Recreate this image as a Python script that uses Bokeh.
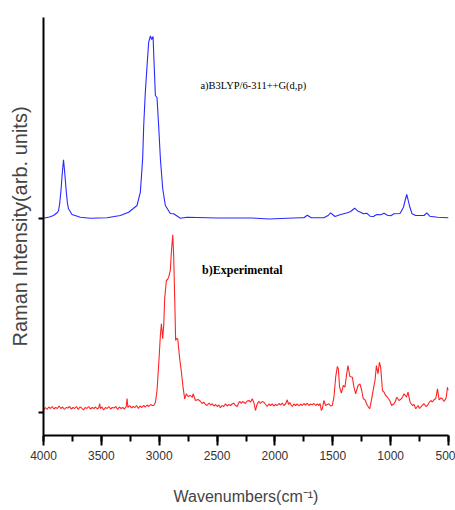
from bokeh.plotting import figure
from bokeh.models import Range1d, SingleIntervalTicker, FixedTicker
from bokeh.core.properties import value
from bokeh.embed import file_html
from bokeh.resources import INLINE

# ---- (a) calculated spectrum B3LYP/6-311++G(d,p), offset baseline ~217 ----
calc_wn = [4000, 3950, 3913, 3880, 3870, 3860, 3849, 3838, 3827, 3816, 3804, 3794, 3784, 3754,
           3682, 3596, 3451, 3336, 3264, 3224, 3192, 3163, 3143, 3134, 3120, 3105, 3091, 3076,
           3065, 3053, 3047, 3033, 3019, 3005, 2990, 2970, 2947, 2904, 2875, 2817, 2759, 2500,
           2200, 2050, 1950, 1780, 1750, 1720, 1686, 1577, 1540, 1519, 1481, 1438, 1374, 1346,
           1311, 1282, 1259, 1236, 1207, 1178, 1149, 1120, 1086, 1057, 1028, 999, 971, 919,
           889, 875, 861, 850, 838, 815, 783, 711, 688, 662, 595, 500]
calc_int = [217.3, 218.5, 220, 223, 225, 232, 245, 262, 275.7, 262, 245, 233, 226.7, 221,
            218.3, 217.3, 217.7, 220, 223.3, 227, 230, 243.3, 277, 310, 343.3, 370, 393.3, 399.5,
            396, 399, 380, 340, 338, 310, 277, 247, 230, 222, 221.7, 217.3, 218.3, 217.5,
            217.5, 216.5, 217, 217.7, 217.7, 220.3, 217.7, 217.7, 220, 222.7, 219, 220.7, 222.7, 224,
            227.3, 224.3, 223.3, 221.7, 222.3, 219.3, 219, 221, 220.7, 222.3, 220.3, 219.7, 221.7, 222,
            228.3, 235, 241, 236, 230, 221.7, 220, 220, 222.7, 219.3, 218.3, 217.7]

# ---- (b) experimental spectrum ----
exp_wn = [4000, 3985, 3970, 3955, 3940, 3925, 3910, 3895, 3880, 3865, 3850, 3835, 3820, 3805,
          3790, 3775, 3760, 3745, 3730, 3715, 3700, 3685, 3670, 3655, 3640, 3625, 3610, 3595,
          3580, 3565, 3550, 3535, 3522, 3515, 3508, 3495, 3480, 3465, 3450, 3435, 3420, 3405,
          3390, 3375, 3360, 3345, 3330, 3315, 3300, 3285, 3278, 3270, 3255, 3240, 3225, 3210,
          3195, 3180, 3165, 3150, 3135, 3120, 3105, 3090, 3075, 3060,
          3048, 3033, 3019, 3005, 2990, 2981, 2975, 2970, 2961, 2953, 2938, 2928, 2918, 2910,
          2903, 2895, 2883, 2875, 2866, 2858, 2850, 2840, 2823, 2808, 2794, 2780, 2765, 2750,
          2730, 2715, 2707, 2687, 2665,
          2644, 2630, 2615, 2600, 2586, 2570, 2556, 2542, 2528, 2513, 2499, 2485, 2471, 2457,
          2442, 2427, 2413, 2398, 2384, 2370, 2356, 2341, 2326, 2315, 2304, 2290, 2280, 2269,
          2255, 2240, 2226, 2210, 2196, 2182, 2168, 2155, 2139, 2125, 2110, 2096, 2081, 2067,
          2052, 2038, 2023, 2009, 1995, 1980, 1966, 1951, 1937, 1922, 1908, 1893, 1882, 1871,
          1860, 1850, 1836, 1821, 1807, 1793, 1778, 1764, 1750, 1735, 1720, 1706, 1691, 1677,
          1663, 1648, 1634, 1620, 1610, 1599, 1590, 1577, 1562, 1548, 1533, 1518, 1504,
          1490, 1475, 1461, 1452, 1441, 1426, 1409, 1395, 1380, 1369, 1352, 1331, 1317, 1302,
          1282, 1265, 1250, 1236, 1222, 1201, 1181, 1164, 1149, 1135, 1123, 1109, 1097, 1086,
          1071, 1057, 1043, 1028, 1008, 991, 971, 960, 947, 928, 907, 895, 884, 863, 850,
          832, 812, 798, 783, 763, 750, 740, 725, 711, 695, 682, 668, 653, 640, 625, 610,
          595, 581, 566, 552, 540, 532, 520, 509, 500]
exp_int = [25.5, 28, 26, 28.5, 27, 29, 26.5, 28, 27, 29.5, 27, 28.5, 26, 28,
           27.5, 29, 26.5, 28, 27, 29, 26, 28.5, 27.5, 25.5, 28, 27, 29, 26.5,
           28, 27, 28.5, 26.5, 28, 32, 27, 28.5, 25.5, 28, 27, 29, 26.5, 28,
           27.5, 29, 26, 28.5, 27, 28, 26.5, 29, 37, 28, 30, 27.5, 29, 28,
           30, 27, 29.5, 28, 30, 28.5, 30.5, 29, 31, 30,
           30, 33, 45, 70, 100, 111.7, 104, 96.7, 110, 136.7, 155, 156, 158.3, 162,
           166.7, 183.3, 200.7, 180, 136.7, 95, 97, 96.7, 76.7, 63.3, 48.3, 36.7, 41.7, 39,
           40, 38, 41.7, 35, 36,
           34.3, 32, 33.3, 31, 30, 32.5, 30.5, 31.7, 29.5, 31, 29, 30.5, 27.7, 30,
           29, 31.7, 29.5, 31, 30, 31.5, 32.3, 30, 29, 32, 34.3, 32, 34, 33.3,
           32, 34.5, 35, 33.5, 36.7, 33, 25, 31, 34.3, 32, 34, 33.3, 31, 29,
           31.5, 30, 31.7, 29.5, 31, 30, 32, 30.5, 32.3, 30, 31.5, 35.7, 31, 33,
           30.5, 29, 31.5, 30, 31.7, 29.5, 31.5, 30, 32, 30.5, 32.3, 30, 31.5, 30.7,
           32, 30, 31.7, 30, 32, 25, 27, 35, 30, 31, 31.7, 29.5, 30,
           38.3, 58.3, 69, 66.7, 48.3, 42.3, 50, 48.3, 61.7, 70, 59, 58.3, 48.3, 41.7,
           50, 51.7, 45, 36.7, 35.7, 30, 26.7, 36.7, 46.7, 55, 70, 61.7, 73.3, 68.3,
           45, 43.3, 40, 38.3, 35, 30, 31.7, 34, 38.3, 35, 36.7, 39, 41.7, 38.3, 43.3,
           33.3, 30, 31, 26.7, 30, 27, 28.3, 30.5, 31.7, 29, 30, 33, 35, 33.5, 35.7, 37,
           46.7, 35.7, 37.5, 36.7, 34, 35, 38, 48.3, 45]

# ---- ticks / labels ----
x_tick_interval = 500
y_baseline_ticks = [23.3, 217.3]
label_calc = "a)B3LYP/6-311++G(d,p)"
label_exp = "b)Experimental"

p = figure(width=455, height=510, output_backend="svg", toolbar_location=None,
           x_range=Range1d(4000, 500), y_range=Range1d(0, 418),
           min_border_left=43, min_border_right=7, min_border_top=17, min_border_bottom=75,
           background_fill_color="white", border_fill_color="white")
p.grid.visible = False
p.outline_line_color = None

p.line(calc_wn, calc_int, line_color="#2828ff", line_width=1.1)
p.line(exp_wn, exp_int, line_color="#ff2424", line_width=1.1)

p.text(x=[2644], y=[350], text=[label_calc], text_font=value("Liberation Serif"),
       text_font_size="10.5px", text_baseline="middle", text_align="left", text_color="black")
p.text(x=[2630], y=[166], text=[label_exp], text_font=value("Liberation Serif"),
       text_font_size="12px", text_font_style="bold", text_baseline="middle",
       text_align="left", text_color="black")

xa = p.xaxis[0]
xa.ticker = SingleIntervalTicker(interval=x_tick_interval, num_minor_ticks=2)
xa.axis_line_width = 2
xa.major_tick_line_width = 2
xa.minor_tick_line_width = 2
xa.major_tick_out = 10
xa.major_tick_in = 0
xa.minor_tick_out = 6
xa.minor_tick_in = 0
xa.major_label_text_font = "Liberation Sans"
xa.major_label_text_font_size = "12px"
xa.major_label_text_color = "#333333"
xa.major_label_standoff = 5
xa.axis_label = "Wavenumbers(cm\u207b\u00b9)"
xa.axis_label_text_font = "Liberation Sans"
xa.axis_label_text_font_size = "16px"
xa.axis_label_text_font_style = "normal"
xa.axis_label_standoff = 25

ya = p.yaxis[0]
ya.ticker = FixedTicker(ticks=y_baseline_ticks, minor_ticks=[])
ya.axis_line_width = 2
ya.major_tick_line_width = 2
ya.major_tick_out = 5
ya.major_tick_in = 0
ya.minor_tick_out = 0
ya.major_label_overrides = {t: "" for t in y_baseline_ticks}
ya.major_label_standoff = 4
ya.axis_label = "Raman Intensity(arb. units)"
ya.axis_label_text_font = "Liberation Sans"
ya.axis_label_text_font_size = "20px"
ya.axis_label_text_font_style = "normal"
ya.axis_label_standoff = 8

open("out.html", "w").write(file_html(p, INLINE))
